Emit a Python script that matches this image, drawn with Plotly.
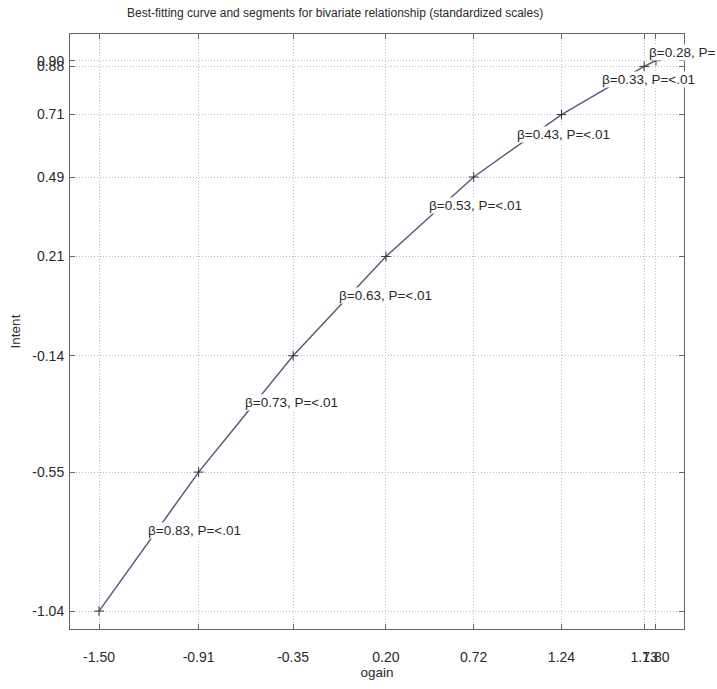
import plotly.graph_objects as go

# Data
ogain = [-1.50, -0.91, -0.35, 0.20, 0.72, 1.24, 1.73, 1.80]
intent = [-1.04, -0.55, -0.14, 0.21, 0.49, 0.71, 0.88, 0.90]
betas = [0.83, 0.73, 0.63, 0.53, 0.43, 0.33, 0.28]
pvals = ["<.01", "<.01", "<.01", "<.01", "<.01", "<.01", ""]

x_ticks = ogain
y_ticks = intent

FONT = "Liberation Sans, Arial, Helvetica, sans-serif"
LINE = "#575c7e"
TXT = "#2a2a2a"

fig = go.Figure()
fig.add_trace(go.Scatter(
    x=ogain, y=intent, mode="lines+markers",
    line=dict(color=LINE, width=1.5),
    marker=dict(symbol="cross-thin", size=7, line=dict(color="#333", width=1)),
    showlegend=False, hoverinfo="skip",
))

annotations = []
for i, b in enumerate(betas):
    mx = (ogain[i] + ogain[i + 1]) / 2
    my = (intent[i] + intent[i + 1]) / 2
    annotations.append(dict(
        x=mx, y=my, xref="x", yref="y",
        text=f"β={b:.2f}, P={pvals[i]}",
        showarrow=False, xanchor="left", yanchor="middle",
        yshift=11, xshift=-2,
        bgcolor="white", borderpad=0,
        font=dict(family=FONT, size=13.5, color=TXT),
    ))

annotations.append(dict(
    x=0.432, y=1.0, xref="paper", yref="paper", yanchor="bottom", yshift=12,
    text="Best-fitting curve and segments for bivariate relationship (standardized scales)",
    showarrow=False, font=dict(family=FONT, size=12, color=TXT),
))

axis_common = dict(
    showline=True, linecolor="#666", linewidth=1, mirror="ticks",
    ticks="inside", ticklen=5, tickcolor="#666", tickangle=0,
    showgrid=True, gridcolor="#bdbdbd", griddash="1px,2px", gridwidth=1,
    zeroline=False, tickfont=dict(family=FONT, size=14, color=TXT),
)

fig.update_layout(
    width=717, height=689,
    margin=dict(l=70, r=33, t=34, b=60),
    plot_bgcolor="white", paper_bgcolor="white",
    xaxis=dict(
        range=[-1.672, 1.966], tickvals=x_ticks,
        ticktext=[f"{v:.2f}" for v in x_ticks],
        ticklabelstandoff=15,
        title=dict(text="ogain", font=dict(family=FONT, size=13.5, color=TXT), standoff=3),
        **axis_common,
    ),
    yaxis=dict(
        range=[-1.103, 0.994], tickvals=y_ticks,
        ticktext=[f"{v:.2f}" for v in y_ticks],
        ticklabelstandoff=2,
        title=dict(text="Intent", font=dict(family=FONT, size=13.5, color=TXT), standoff=8),
        **axis_common,
    ),
    annotations=annotations,
)

fig.write_html("out.html")
